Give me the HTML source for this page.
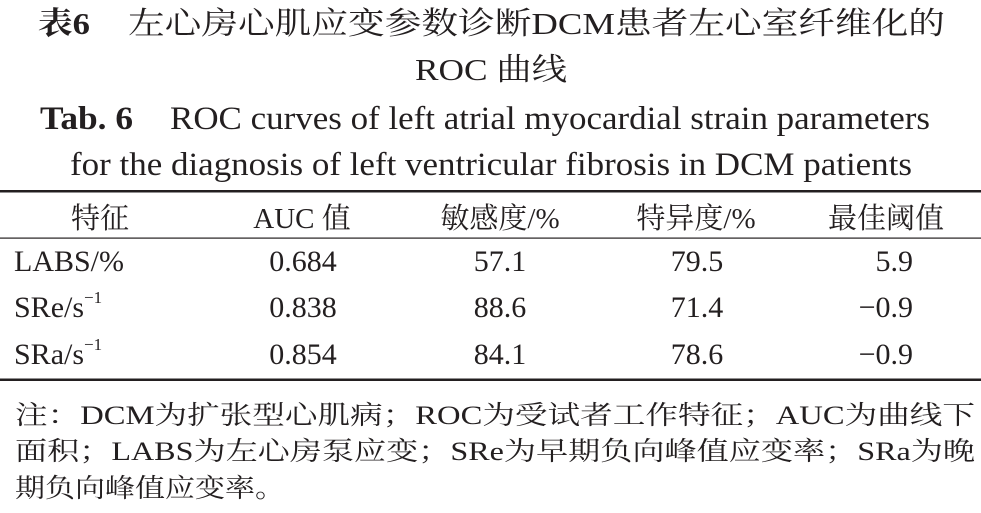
<!DOCTYPE html>
<html><head><meta charset="utf-8"><style>
html,body{margin:0;padding:0;background:#fff;}
svg{display:block;}
text{fill:#231f20;font-family:"Liberation Serif","Noto Serif CJK SC",serif;}
</style></head><body>
<svg width="981" height="513" viewBox="0 0 981 513">
<g>
<text x="38" y="34" font-size="31" font-weight="bold" textLength="52" lengthAdjust="spacingAndGlyphs">表6</text>
<text x="128" y="34" font-size="31" textLength="817" lengthAdjust="spacingAndGlyphs">左心房心肌应变参数诊断DCM患者左心室纤维化的</text>
<text x="415" y="80" font-size="31" textLength="152" lengthAdjust="spacingAndGlyphs">ROC 曲线</text>
</g>
<g>
<text x="40" y="129" font-size="33" font-weight="bold" textLength="93" lengthAdjust="spacingAndGlyphs">Tab. 6</text>
<text x="170" y="129" font-size="33" textLength="760" lengthAdjust="spacingAndGlyphs">ROC curves of left atrial myocardial strain parameters</text>
<text x="70" y="175" font-size="33" textLength="842" lengthAdjust="spacingAndGlyphs">for the diagnosis of left ventricular fibrosis in DCM patients</text>
</g>
<rect x="0" y="190" width="981" height="2.5" fill="#231f20"/>
<rect x="0" y="237.5" width="981" height="1.2" fill="#231f20"/>
<rect x="0" y="378.5" width="981" height="2.5" fill="#231f20"/>
<g font-size="29">
<text x="100" y="228" text-anchor="middle">特征</text>
<text x="302" y="228" text-anchor="middle">AUC 值</text>
<text x="500" y="228" text-anchor="middle">敏感度/%</text>
<text x="696" y="228" text-anchor="middle">特异度/%</text>
<text x="886" y="228" text-anchor="middle">最佳阈值</text>
</g>
<g font-size="30">
<text x="14" y="271">LABS/%</text>
<text x="303" y="271" text-anchor="middle">0.684</text>
<text x="500" y="271" text-anchor="middle">57.1</text>
<text x="697" y="271" text-anchor="middle">79.5</text>
<text x="913" y="271" text-anchor="end">5.9</text>
</g>
<g font-size="30">
<text x="14" y="317">SRe/s<tspan font-size="17" dy="-14">−1</tspan></text>
<text x="303" y="317" text-anchor="middle">0.838</text>
<text x="500" y="317" text-anchor="middle">88.6</text>
<text x="697" y="317" text-anchor="middle">71.4</text>
<text x="913" y="317" text-anchor="end">−0.9</text>
</g>
<g font-size="30">
<text x="14" y="364">SRa/s<tspan font-size="17" dy="-14">−1</tspan></text>
<text x="303" y="364" text-anchor="middle">0.854</text>
<text x="500" y="364" text-anchor="middle">84.1</text>
<text x="697" y="364" text-anchor="middle">78.6</text>
<text x="913" y="364" text-anchor="end">−0.9</text>
</g>
<g font-size="26">
<text x="15" y="424" textLength="960" lengthAdjust="spacingAndGlyphs">注：DCM为扩张型心肌病；ROC为受试者工作特征；AUC为曲线下</text>
<text x="15" y="460" textLength="960" lengthAdjust="spacingAndGlyphs">面积；LABS为左心房泵应变；SRe为早期负向峰值应变率；SRa为晚</text>
<text x="15" y="497" textLength="270" lengthAdjust="spacingAndGlyphs">期负向峰值应变率。</text>
</g>
</svg>
</body></html>
